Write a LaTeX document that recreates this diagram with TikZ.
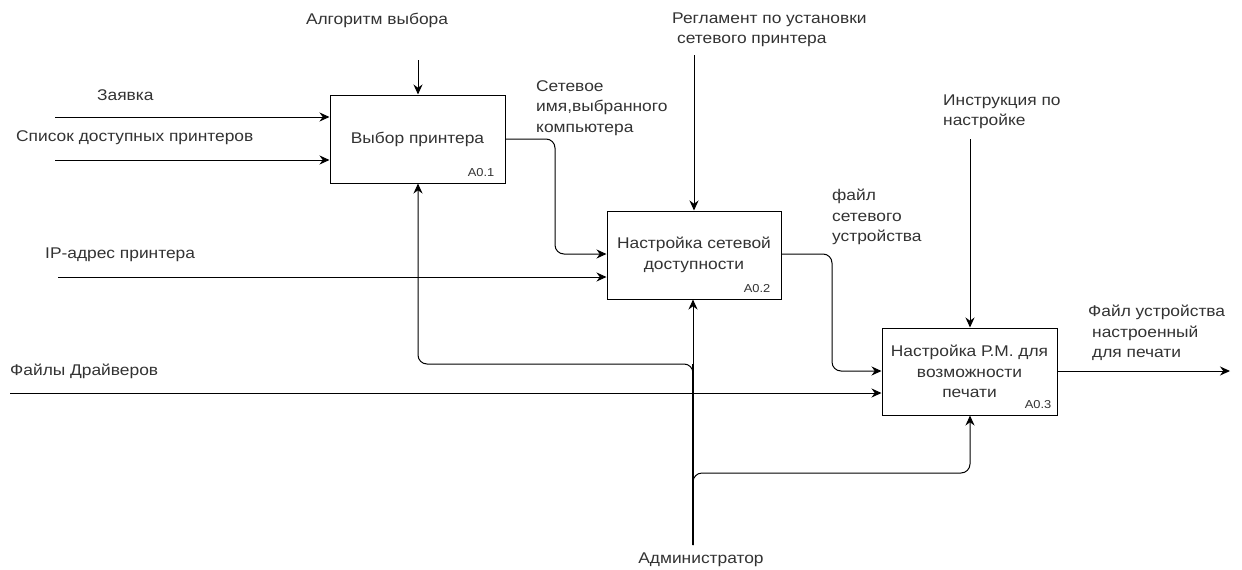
\documentclass[tikz,border=0pt]{standalone}
\usepackage{fontspec}
\setmainfont{Liberation Sans}[FakeStretch=1.12]
\usetikzlibrary{arrows.meta,calc}
\begin{document}
\begin{tikzpicture}[x=1pt,y=-1pt,
  box/.style={draw=black,line width=1pt,minimum width=175pt,minimum height=88pt,inner sep=0pt,
    align=center,font=\fontsize{15.5}{20.5}\selectfont,text=black!80},
  lbl/.style={font=\fontsize{15.5}{20.5}\selectfont,text=black!80,inner sep=0pt},
  code/.style={font=\fontsize{11.5}{13}\selectfont,text=black!80,inner sep=0pt,anchor=south east},
  arr/.style={line width=1pt,-{Stealth[length=10pt,width=9pt]},rounded corners=9pt},
  ln/.style={line width=1pt,rounded corners=9pt}]
\useasboundingbox (0,0) rectangle (1242,570);
\fill[white] (0,0) rectangle (1242,570);
% boxes
\node[box] (b1) at (417.5,139) {Выбор принтера};
\node[box,minimum width=174pt] (b2) at (694,255) {Настройка сетевой\\доступности};
\node[box,minimum height=87pt] (b3) at (969.5,371.5) {Настройка Р.М. для\\возможности\\печати};
\node[code] (c1) at ($(b1.south east)+(-11,-7)$) {A0.1};
\node[code] (c2) at ($(b2.south east)+(-11,-7)$) {A0.2};
\node[code] (c3) at ($(b3.south east)+(-6,-7)$) {A0.3};
% labels
\node[lbl,anchor=west] (lz) at (97,95) {Заявка};
\node[lbl,anchor=west] (ls) at (16,138) {Список доступных принтеров};
\node[lbl] (la) at (377,20) {Алгоритм выбора};
\node[lbl,anchor=west,align=left] (lsn) at (536,108) {Сетевое\\имя,выбранного\\компьютера};
\node[lbl,anchor=west,align=left] (lr) at (672,30) {Регламент по установки\\\hspace*{5pt}сетевого принтера};
\node[lbl,anchor=west] (lip) at (45,255) {IP-адрес принтера};
\node[lbl,anchor=west,align=left] (lf) at (832,217) {файл\\сетевого\\устройства};
\node[lbl,anchor=west] (ld) at (10,371) {Файлы Драйверов};
\node[lbl,anchor=west,align=left] (li) at (943,112) {Инструкция по\\настройке};
\node[lbl,anchor=west,align=left] (lo) at (1088,333) {Файл устройства\\\hspace*{4pt}настроенный\\\hspace*{4pt}для печати};
\node[lbl] (lad) at (701,560) {Администратор};
% free ends
\coordinate (z0) at (55,117);
\coordinate (s0) at (55,160);
\coordinate (a0) at (418,60);
\coordinate (r0) at (694,55);
\coordinate (ip0) at (58,277);
\coordinate (d0) at (10,393);
\coordinate (i0) at (970,139);
\coordinate (o1) at (1230,371);
\coordinate (adm) at (693,545);
% inputs
\draw[arr] (z0) -- (z0 -| b1.west);
\draw[arr] (s0) -- (s0 -| b1.west);
\draw[arr] (ip0) -- (ip0 -| b2.west);
\draw[arr] (d0) -- (d0 -| b3.west);
% controls
\draw[arr] (a0) -- (a0 |- b1.north);
\draw[arr] (r0) -- (r0 |- b2.north);
\draw[arr] (i0) -- (i0 |- b3.north);
% outputs
\draw[arr] (b1.east |- 0,139) -- (555,139) -- (555,254) -- (b2.west |- 0,254);
\draw[arr] (b2.east |- 0,254) -- (832,254) -- (832,371) -- (b3.west |- 0,371);
\draw[arr] (b3.east |- 0,371) -- (o1);
% mechanisms
\draw[arr] (adm) -- (693,364) -- (418,364) -- (418,0 |- b1.south);
\draw[arr] (adm) -- (adm |- b2.south);
\draw[arr] (adm) -- (693,473) -- (970,473) -- (970,0 |- b3.south);
\draw[line width=2pt] (adm) -- (693,364);
\end{tikzpicture}
\end{document}
